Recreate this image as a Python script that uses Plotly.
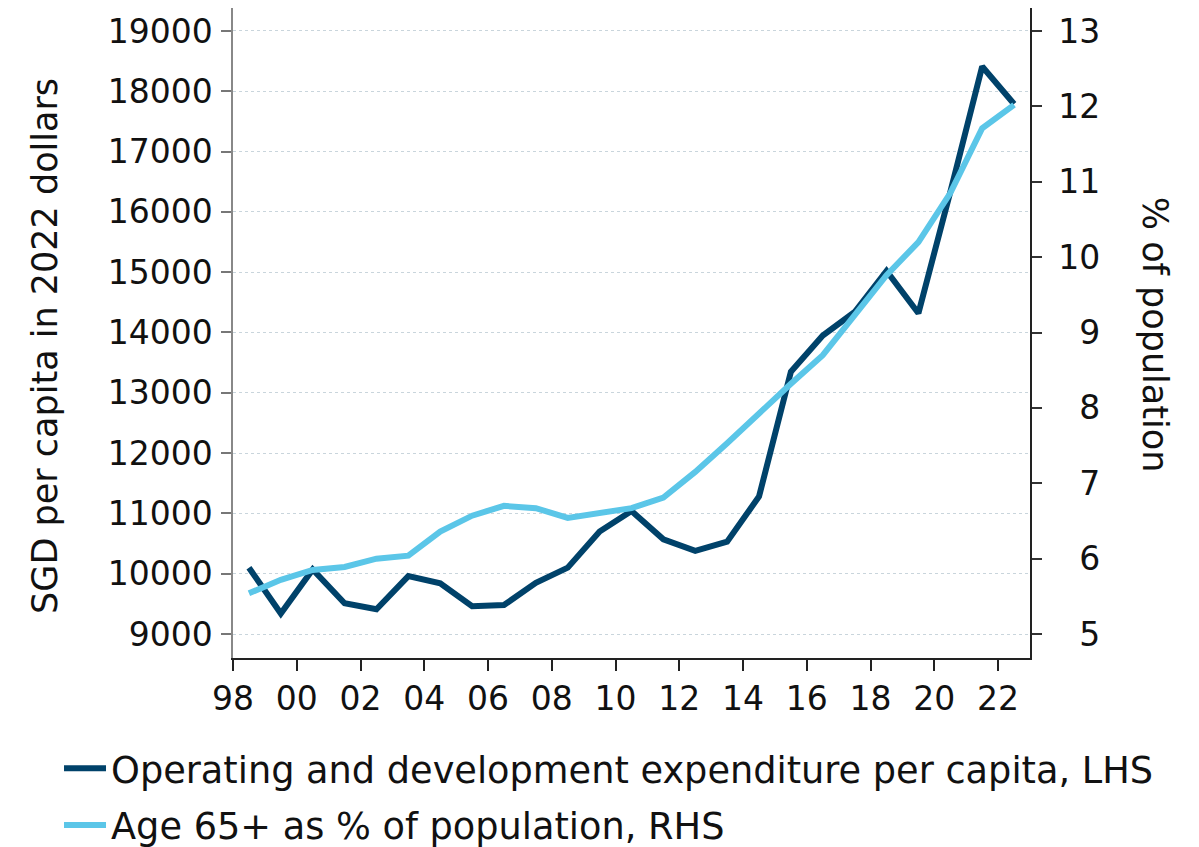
import plotly.graph_objects as go

# years (points sit mid-year)
years = [1998.5 + i for i in range(25)]

# Operating and development expenditure per capita, SGD (2022 dollars)
spend = [10100, 9340, 10070, 9510, 9410, 9960, 9840, 9460, 9480, 9850,
         10100, 10700, 11040, 10570, 10380, 10530, 11280, 13350, 13950, 14340,
         15020, 14320, 16330, 18410, 17790]

# Age 65+ as % of population
aged = [5.54, 5.72, 5.85, 5.89, 6.00, 6.04, 6.36, 6.57, 6.70, 6.67,
        6.54, 6.61, 6.67, 6.81, 7.15, 7.53, 7.93, 8.32, 8.70, 9.24,
        9.76, 10.20, 10.85, 11.71, 12.02]

tick_years = list(range(1998, 2023, 2))
tick_text = ["98", "00", "02", "04", "06", "08", "10", "12", "14", "16", "18", "20", "22"]
left_ticks = list(range(9000, 19001, 1000))
right_ticks = list(range(5, 14))
# right labels are right-aligned in the original: pad single digits with a figure space
right_text = ["\u2007" + str(v) if v < 10 else str(v) for v in right_ticks]

dark = "#00426a"
light = "#5bc6e8"
font = "DejaVu Sans"

fig = go.Figure()
fig.add_trace(go.Scatter(x=years, y=spend, mode="lines", name="Operating and development expenditure per capita, LHS",
                         line=dict(color=dark, width=6), legendgroup="a"))
fig.add_trace(go.Scatter(x=years, y=aged, mode="lines", name="Age 65+ as % of population, RHS",
                         line=dict(color=light, width=6), yaxis="y2", legendgroup="b"))

fig.update_layout(
    width=1199, height=847,
    margin=dict(l=233, r=169, t=8, b=189, autoexpand=False),
    paper_bgcolor="white", plot_bgcolor="white",
    font=dict(family=font, size=33, color="#111111"),
    xaxis=dict(range=[1998, 2023], tickvals=tick_years, ticktext=tick_text,
               ticks="outside", ticklen=11, tickcolor="#222", tickwidth=2,
               showline=True, linecolor="#222", linewidth=1.5, showgrid=False,
               zeroline=False, ticklabelstandoff=0, tickfont=dict(size=33)),
    yaxis=dict(range=[8602, 19381], tickvals=left_ticks, tickformat="d", ticks="outside", ticklen=10,
               tickcolor="#777", tickwidth=1.5, showline=True, linecolor="#888", linewidth=1.5,
               showgrid=True, gridcolor="#c9d5dc", griddash="dot", gridwidth=1,
               zeroline=False, ticklabelstandoff=2, tickfont=dict(size=33)),
    yaxis2=dict(range=[4.682, 13.305], tickvals=right_ticks, ticktext=right_text,
                overlaying="y", side="right",
                ticks="outside", ticklen=10, tickcolor="#333", tickwidth=1.5,
                showline=True, linecolor="#222", linewidth=1.5, showgrid=False,
                zeroline=False, ticklabelstandoff=10, tickfont=dict(size=33)),
    showlegend=True,
    legend=dict(x=-0.2183, y=-0.123, xanchor="left", yanchor="top", orientation="v",
                font=dict(size=36.7), tracegroupgap=6, itemwidth=42, bgcolor="rgba(0,0,0,0)"),
    annotations=[
        dict(text="SGD per capita in 2022 dollars", xref="paper", yref="paper",
             x=-0.236, y=0.48, xanchor="center", yanchor="middle", textangle=-90,
             showarrow=False, font=dict(size=35)),
        dict(text="% of population", xref="paper", yref="paper",
             x=1.157, y=0.497, xanchor="center", yanchor="middle", textangle=90,
             showarrow=False, font=dict(size=35)),
    ],
)

# drop the browser's default 8px body margin so the figure fills the window
fig.write_html("out.html", config={"displayModeBar": False},
               post_script="document.body.style.margin = '0';")
